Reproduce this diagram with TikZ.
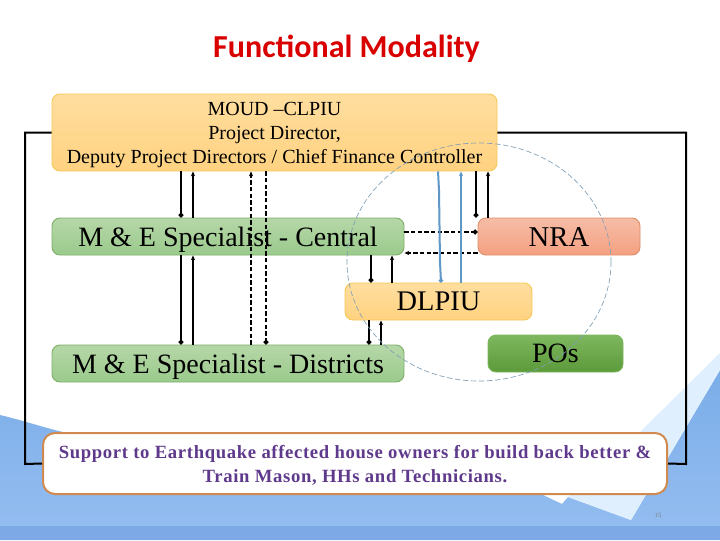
\documentclass[tikz,border=0pt]{standalone}
\usepackage{fontspec}
\setmainfont{Liberation Serif}
\newfontfamily\titlefont{Carlito}
\newfontfamily\supportfont[LetterSpace=3.5]{Liberation Serif}
\newcommand{\lowered}[2]{\raisebox{-#1}[\height][\depth]{#2}}
\usetikzlibrary{arrows.meta}
\definecolor{bandblue}{HTML}{7DA9E6}
\definecolor{bluetop}{HTML}{7BADE8}
\definecolor{bluelow}{HTML}{95BEF1}
\definecolor{paleblue}{HTML}{E0EFFD}
\definecolor{linkblue}{HTML}{5F97C6}
\definecolor{ringblue}{HTML}{7F9FB8}
\definecolor{purpletext}{HTML}{5F3A8C}
\definecolor{orangeA}{HTML}{FFDE9F}
\definecolor{orangeB}{HTML}{FFD280}
\definecolor{orangeC}{HTML}{F5C95A}
\definecolor{greenA}{HTML}{B6D7A8}
\definecolor{greenB}{HTML}{9ACA8C}
\definecolor{greenC}{HTML}{7FAF68}
\definecolor{salmonA}{HTML}{F6BDA7}
\definecolor{salmonB}{HTML}{F4A080}
\definecolor{salmonC}{HTML}{DE8E68}
\definecolor{dkgreenA}{HTML}{7EB75F}
\definecolor{dkgreenB}{HTML}{5C9A3A}
\definecolor{supportedge}{HTML}{D08A50}
\tikzset{
  x=0.75pt,y=-0.75pt,
  boxbase/.style={rounded corners=6pt,inner sep=0pt,align=center,line width=0.7pt,text=black},
  orangebox/.style={boxbase,draw=orangeC,top color=orangeA,bottom color=orangeB},
  greenbox/.style={boxbase,draw=greenC,top color=greenA,bottom color=greenB,font=\fontsize{21}{24}\selectfont},
  salmonbox/.style={boxbase,draw=salmonC,top color=salmonA,bottom color=salmonB,font=\fontsize{21.5}{24}\selectfont},
  darkgreenbox/.style={boxbase,draw=dkgreenA,top color=dkgreenA,bottom color=dkgreenB,font=\fontsize{21}{24}\selectfont},
  frame/.style={line width=1.5pt,black},
  down/.style={line width=1.2pt,-{Circle[length=3.6pt]}},
  up/.style={line width=1.2pt,-{Stealth[length=3.6pt,width=3.2pt]}},
  dashdown/.style={down,line width=1.4pt,dash pattern=on 3.2pt off 1.8pt},
  dashup/.style={up,line width=1.4pt,dash pattern=on 3.2pt off 1.8pt},
  bluelink/.style={linkblue,line width=1.5pt},
  ring/.style={ringblue,line width=0.5pt,dash pattern=on 4pt off 2pt},
}
\begin{document}
\begin{tikzpicture}
\useasboundingbox (0,0) rectangle (720,540);
% background
\fill[white] (0,0) rectangle (720,540);
\shade[top color=bluetop,bottom color=bluelow]
  (0,415) .. controls (25,421) and (45,428) .. (67,433) -- (540,433) -- (543,495) -- (562,504)
  -- (568,497) -- (631,520) -- (720,370) -- (720,540) -- (0,540) -- cycle;
\fill[paleblue] (568,497) -- (631,520) -- (720,370) -- (720,353) -- (640,432) -- cycle;
\fill[bandblue] (0,526) rectangle (720,540);
% title
\node[text=red!85!black,font=\titlefont\bfseries\fontsize{24}{28}\selectfont] (title) at (346.5,47) {\lowered{1.2pt}{Functional Modality}};
% boxes
\node[orangebox,minimum width=333.75pt,minimum height=57.75pt,font=\fontsize{15}{18}\selectfont] (top) at (274.5,132.5)
  {\lowered{2.2pt}{MOUD --CLPIU}\\\lowered{2.2pt}{Project Director,}\\\lowered{2.2pt}{Deputy Project Directors / Chief Finance Controller}};
\node[greenbox,minimum width=264pt,minimum height=27.75pt] (central) at (228,236.5) {\lowered{2.2pt}{M \& E Specialist - Central}};
\node[salmonbox,minimum width=121.5pt,minimum height=27.75pt] (nra) at (559,236.5) {\lowered{0.7pt}{NRA}};
\node[orangebox,minimum width=140.25pt,minimum height=27.75pt,font=\fontsize{21.3}{24}\selectfont] (dlpiu) at (438.5,301.5) {DLPIU};
\node[greenbox,minimum width=264pt,minimum height=27.75pt] (districts) at (228,363.5) {\lowered{2.2pt}{M \& E Specialist - Districts}};
\node[darkgreenbox,minimum width=101.25pt,minimum height=27.75pt] (pos) at (555.5,353.5) {POs};
\node[boxbase,draw=supportedge,line width=1.5pt,fill=white,rounded corners=9pt,
      minimum width=468pt,minimum height=45.75pt,text=purpletext,
      font=\supportfont\bfseries\fontsize{14}{18}\selectfont] (support) at (355,463.5)
  {\lowered{1.4pt}{Support to Earthquake affected house owners for build back better \&}\\\lowered{1.4pt}{Train Mason, HHs and Technicians.}};
% frame
\draw[frame] (top.west) -- (25,132.5) -- (25,464) -- (support.west);
\draw[frame] (top.east) -- (686,132.5) -- (686,464) -- (support.east);
% connectors top - central - districts
\draw[down] (top.south -| 181,0) -- (central.north -| 181,0);
\draw[up] (central.north -| 193,0) -- (top.south -| 193,0);
\draw[down] (central.south -| 181,0) -- (districts.north -| 181,0);
\draw[up] (districts.north -| 193,0) -- (central.south -| 193,0);
\draw[dashup] (districts.north -| 251,0) -- (top.south -| 251,0);
\draw[dashdown] (top.south -| 266,0) -- (districts.north -| 266,0);
% top - NRA
\draw[down] (top.south -| 476,0) -- (nra.north -| 476,0);
\draw[up] (nra.north -| 488,0) -- (top.south -| 488,0);
% central - NRA
\draw[dashdown] (central.east |- 0,232) -- (nra.west |- 0,232);
\draw[dashup] (nra.west |- 0,253) -- (central.east |- 0,253);
% central - DLPIU
\draw[down] (central.south -| 371,0) -- (dlpiu.north -| 371,0);
\draw[up] (dlpiu.north -| 392,0) -- (central.south -| 392,0);
% top - DLPIU blue
\draw[bluelink,-{Circle[length=3pt]}] (top.south -| 438,0) -- (439,190) -- (440,262) -- (dlpiu.north -| 441,0);
\draw[bluelink,-{Stealth[length=3.6pt,width=3.2pt]}] (dlpiu.north -| 461,0) -- (top.south -| 461,0);
% DLPIU - districts
\draw[down] (dlpiu.south -| 369,0) -- (districts.north -| 369,0);
\draw[up] (districts.north -| 381,0) -- (dlpiu.south -| 381,0);
% ring
\draw[ring] (479,262) ellipse [x radius=132,y radius=119];
% page number
\node[text=gray,font=\fontsize{5}{6}\selectfont] (pagenum) at (658,515) {15};
\end{tikzpicture}
\end{document}
